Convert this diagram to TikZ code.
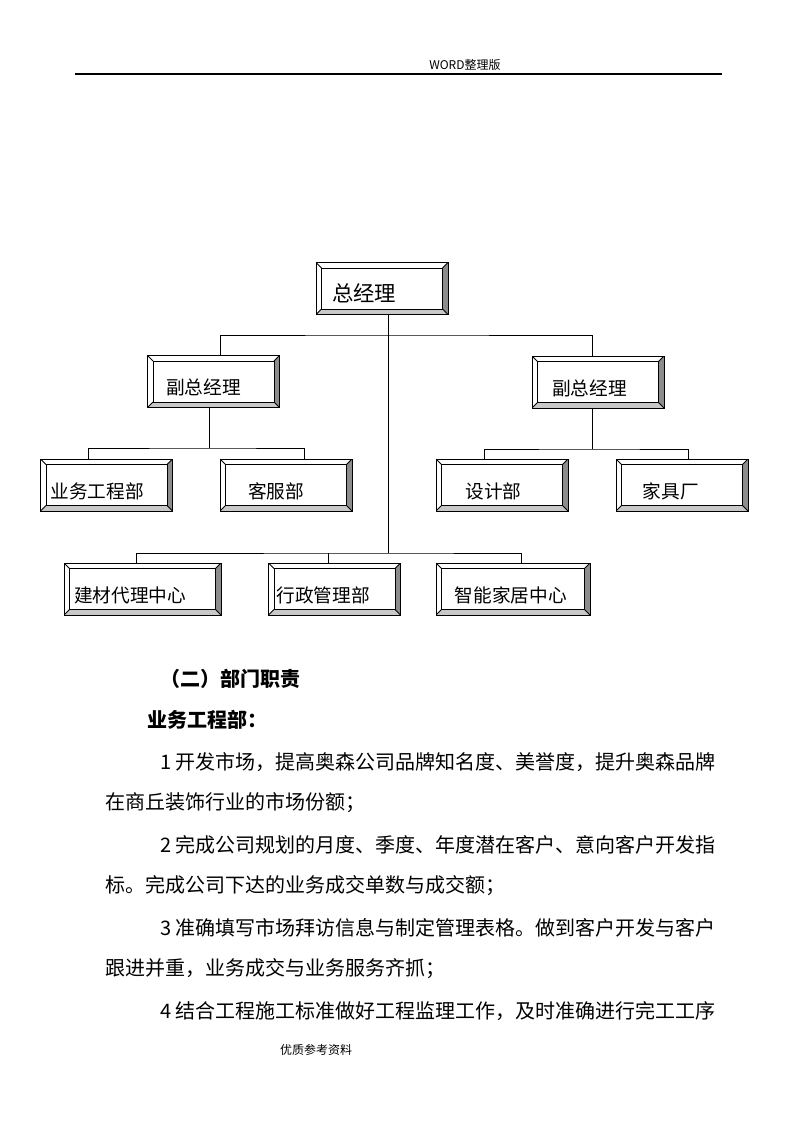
\documentclass[tikz,border=0pt]{standalone}
\usepackage{fontspec}
\setmainfont{Noto Sans CJK SC}
\usepackage{tikz}
\usetikzlibrary{calc}
\definecolor{bevelshade}{HTML}{8C8C8C}
\definecolor{bevellight}{HTML}{C8C8C8}

\tikzset{
  bevel/.style={draw, line width=0.75pt, fill=white, rectangle, inner xsep=0pt, inner ysep=0pt,
    text width=99pt, minimum height=39pt, align=left, text height=20pt, text depth=0pt,
    font=\fontsize{14}{14}\selectfont,
    execute at begin node={\noindent\hspace*{#1}},
    path picture={
      \coordinate (bvnw) at (path picture bounding box.north west);
      \coordinate (bvne) at (path picture bounding box.north east);
      \coordinate (bvsw) at (path picture bounding box.south west);
      \coordinate (bvse) at (path picture bounding box.south east);
      \fill[bevelshade] (bvne) -- (bvse) -- ($(bvse)+(-5.5,-5.5)$) -- ($(bvne)+(-5.5,5.5)$) -- cycle;
      \fill[bevellight] (bvsw) -- (bvse) -- ($(bvse)+(-5.5,-5.5)$) -- ($(bvsw)+(5.5,-5.5)$) -- cycle;
      \draw[line width=0.6pt] ($(bvnw)+(5.5,5.5)$) rectangle ($(bvse)+(-5.5,-5.5)$);
      \draw[line width=0.6pt] (bvnw) -- ++(5.5,5.5) (bvne) -- ++(-5.5,5.5)
        (bvsw) -- ++(5.5,-5.5) (bvse) -- ++(-5.5,-5.5);
    }},
  bevel/.default=10pt,
  link/.style={line width=0.75pt},
  pagenote/.style={inner sep=0pt, font=\fontsize{9}{9}\selectfont},
  para/.style={anchor=west, inner sep=0pt, font=\fontsize{15}{15}\selectfont},
  head/.style={para, font=\fontsize{15}{15}\selectfont\bfseries},
}

\begin{document}
\begin{tikzpicture}[x=0.75pt, y=-0.75pt]
  \useasboundingbox[fill=white] (0,0) rectangle (794,1123);

  % Page header
  \node[pagenote] (hdr) at (465,65) {WORD整理版};
  \draw[line width=0.9pt] (75,74) -- (722,74);

  % Top level
  \node[bevel=12pt, font=\fontsize{16}{16}\selectfont] (gm) at (382,288.5) {总经理};

  % Deputy managers
  \node[bevel=14pt] (vpl) at (213.5,381.5) {副总经理};
  \node[bevel=15pt] (vpr) at (598,382) {副总经理};

  % Departments under deputies
  \node[bevel=7.5pt] (ywgc) at (106.5,485) {业务工程部};
  \node[bevel=21pt] (kf) at (286,485) {客服部};
  \node[bevel=22pt] (sj) at (502,485) {设计部};
  \node[bevel=20pt] (jj) at (682,485) {家具厂};

  % Departments under general manager
  \node[bevel=7.5pt, text width=117.75pt] (jc) at (142.5,589) {建材代理中心};
  \node[bevel=6pt] (xz) at (334.5,589) {行政管理部};
  \node[bevel=14pt, text width=115.5pt] (zn) at (513,589) {智能家居中心};

  % Connectors
  \coordinate (busa) at (388,335);
  \coordinate (busb) at (209,448);
  \coordinate (busc) at (388,553);
  \coordinate (busd) at (592,449);
  \draw[link] ($(gm.south)+(6,0)$) -- (busc);
  \draw[link] ($(vpl.north)+(6.5,0)$) |- (busa) -| ($(vpr.north)+(-6,0)$);
  \draw[link] (vpl.south -| busb) -- (busb);
  \draw[link] ($(ywgc.north)+(-18.5,0)$) |- (busb) -| ($(kf.north)+(18,0)$);
  \draw[link] (vpr.south -| busd) -- (busd);
  \draw[link] ($(sj.north)+(-18,0)$) |- (busd) -| ($(jj.north)+(6,0)$);
  \draw[link] ($(jc.north)+(-6.5,0)$) |- (busc) -| ($(zn.north)+(8,0)$);
  \coordinate (xzdrop) at ($(xz.north)+(-6.5,0)$);
  \draw[link] (xzdrop) -- (xzdrop |- busc);

  % Duties text
  \node[head] (duty) at (160,679) {（二）部门职责};
  \node[head] (dept) at (147,720) {业务工程部：};
  \node[para] (l1) at (160,762) {1 开发市场，提高奥森公司品牌知名度、美誉度，提升奥森品牌};
  \node[para] (l2) at (105,803) {在商丘装饰行业的市场份额；};
  \node[para] (l3) at (160,845) {2 完成公司规划的月度、季度、年度潜在客户、意向客户开发指};
  \node[para] (l4) at (105,886) {标。完成公司下达的业务成交单数与成交额；};
  \node[para] (l5) at (160,928) {3 准确填写市场拜访信息与制定管理表格。做到客户开发与客户};
  \node[para] (l6) at (105,969) {跟进并重，业务成交与业务服务齐抓；};
  \node[para] (l7) at (160,1011) {4 结合工程施工标准做好工程监理工作，及时准确进行完工工序};

  % Page footer
  \node[pagenote] (ftr) at (316,1050) {优质参考资料};
\end{tikzpicture}
\end{document}
